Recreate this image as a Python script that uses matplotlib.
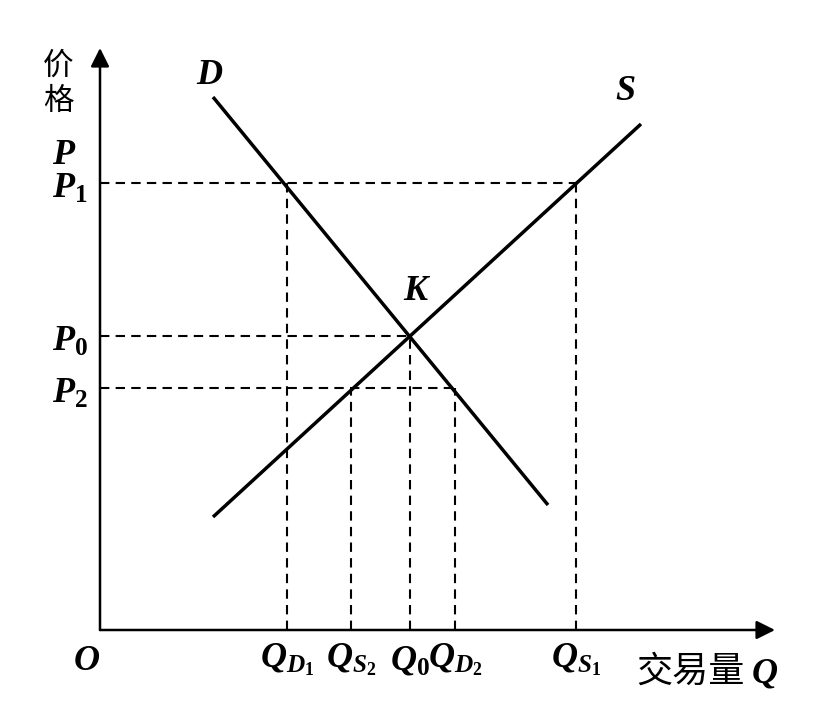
import matplotlib.pyplot as plt

# supply / demand diagram, units: quantity Q and price P (arbitrary)
demand_q = [11.3, 44.8]
demand_p = [53.3, 12.5]
supply_q = [11.3, 54.1]
supply_p = [11.3, 50.6]

price_levels = {'P1': 44.7, 'P0': 29.4, 'P2': 24.2}
qty_levels = {'QD1': 18.7, 'QS2': 25.1, 'Q0': 31.0, 'QD2': 35.5, 'QS1': 47.6}

q_max = 67.5
p_max = 58.2

plt.rcParams['mathtext.fontset'] = 'custom'
plt.rcParams['mathtext.it'] = 'Liberation Serif:italic:bold'
plt.rcParams['mathtext.rm'] = 'Liberation Serif:bold'
plt.rcParams['mathtext.bf'] = 'Liberation Serif:bold'

fig = plt.figure(figsize=(8.31, 7.2), dpi=100)
ax = fig.add_axes([0, 0, 1, 1])
ax.set_xlim(-10, 73.1)
ax.set_ylim(-9, 63)
ax.axis('off')

# axes with arrows
arr = dict(arrowstyle='-|>', lw=1.8, color='black', mutation_scale=28,
           shrinkA=0, shrinkB=0)
ax.annotate('', xy=(0, p_max), xytext=(0, 0), arrowprops=arr)
ax.annotate('', xy=(q_max, 0), xytext=(0, 0), arrowprops=arr)

# curves
ax.plot(demand_q, demand_p, color='black', lw=2.5, solid_capstyle='butt')
ax.plot(supply_q, supply_p, color='black', lw=2.5, solid_capstyle='butt')

# dashed guides
dash = dict(color='black', lw=1.5, ls=(0, (4.5, 3)))
p1, p0, p2 = price_levels['P1'], price_levels['P0'], price_levels['P2']
ax.plot([0, qty_levels['QS1']], [p1, p1], **dash)
ax.plot([0, qty_levels['Q0']], [p0, p0], **dash)
ax.plot([0, qty_levels['QD2']], [p2, p2], **dash)
ax.plot([qty_levels['QD1']] * 2, [0, p1], **dash)
ax.plot([qty_levels['QS1']] * 2, [0, p1], **dash)
ax.plot([qty_levels['Q0']] * 2, [0, p0], **dash)
ax.plot([qty_levels['QS2']] * 2, [0, p2], **dash)
ax.plot([qty_levels['QD2']] * 2, [0, p2], **dash)

fs = 26
cjk = ['Noto Sans CJK SC', 'DejaVu Sans']

# y-axis labels
ax.text(-4.2, 56.4, '价', fontsize=22, family=cjk, weight='medium', ha='center', va='center')
ax.text(-4.2, 52.9, '格', fontsize=22, family=cjk, weight='medium', ha='center', va='center')
ax.text(-4.8, 47.6, '$P$', fontsize=fs, ha='left', va='center')
ax.text(-4.8, p1 - 0.5, '$P_1$', fontsize=fs, ha='left', va='center')
ax.text(-4.8, p0 - 0.5, '$P_0$', fontsize=fs, ha='left', va='center')
ax.text(-4.8, p2 - 0.5, '$P_2$', fontsize=fs, ha='left', va='center')

# x-axis labels
ly = -3.0
ax.text(-1.3, ly, '$O$', fontsize=fs, ha='center', va='center')
ax.text(qty_levels['QD1'], ly, '$Q_{D_1}$', fontsize=fs, ha='center', va='center')
ax.text(qty_levels['QS2'], ly, '$Q_{S_2}$', fontsize=fs, ha='center', va='center')
ax.text(qty_levels['Q0'], ly, '$Q_0$', fontsize=fs, ha='center', va='center')
ax.text(qty_levels['QD2'], ly, '$Q_{D_2}$', fontsize=fs, ha='center', va='center')
ax.text(qty_levels['QS1'], ly, '$Q_{S_1}$', fontsize=fs, ha='center', va='center')
ax.text(53.6, -4.2, '交易量', fontsize=26, family=cjk, weight='medium', ha='left', va='center')
ax.text(66.5, -4.3, '$Q$', fontsize=fs, ha='center', va='center')

# curve labels
ax.text(11.0, 55.6, '$D$', fontsize=fs, ha='center', va='center')
ax.text(52.5, 54.0, '$S$', fontsize=fs, ha='center', va='center')
ax.text(31.7, 34.0, '$K$', fontsize=fs, ha='center', va='center')

fig.savefig('out.png', dpi=100)
